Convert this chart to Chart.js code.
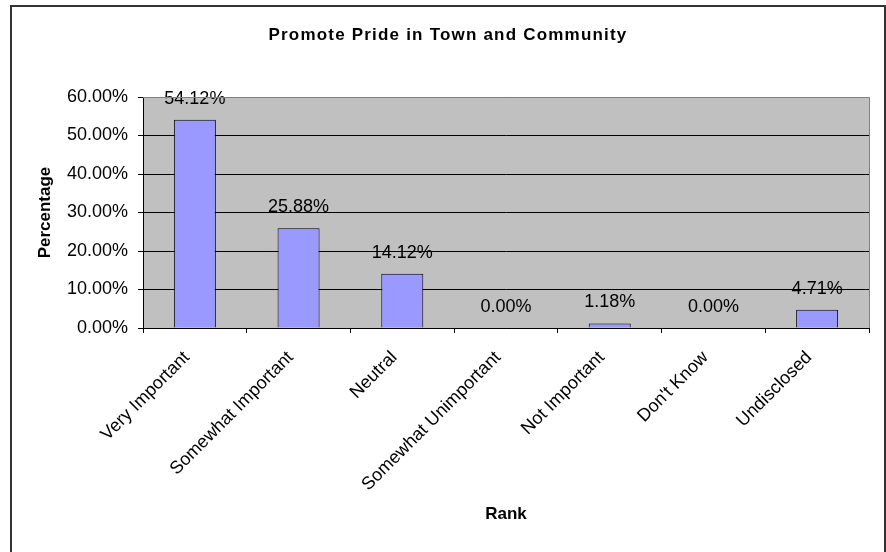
<!DOCTYPE html>
<html>
<head>
<meta charset="utf-8">
<script src="https://cdn.jsdelivr.net/npm/chart.js@4/dist/chart.umd.min.js"></script>
<style>
  html, body { margin: 0; padding: 0; background: #fff; }
  canvas { display: block; }
</style>
</head>
<body>
<canvas id="chart" width="886" height="552"></canvas>
<script>
// data
const categories = ['Very Important', 'Somewhat Important', 'Neutral', 'Somewhat Unimportant', 'Not Important', "Don't Know", 'Undisclosed'];
const percentages = [54.12, 25.88, 14.12, 0.00, 1.18, 0.00, 4.71];
const yMax = 60;
const yStep = 10;

const chartTitle = 'Promote Pride in Town and Community';
const xTitle = 'Rank';
const yTitle = 'Percentage';

const FONT = '"Liberation Sans", Arial, sans-serif';

// grey plot background, outer frame and the chart title
const framePlugin = {
    id: 'frame',
    beforeDraw(chart) {
        const ctx = chart.ctx;
        const a = chart.chartArea;
        ctx.save();
        ctx.fillStyle = '#fff';
        ctx.fillRect(0, 0, chart.width, chart.height);
        ctx.fillStyle = '#c0c0c0';
        ctx.fillRect(a.left, a.top, a.right - a.left, a.bottom - a.top);
        ctx.strokeStyle = '#333';
        ctx.lineWidth = 2;
        ctx.strokeRect(11, 6, 874, 600);
        ctx.fillStyle = '#000';
        ctx.font = 'bold 17px ' + FONT;
        ctx.letterSpacing = '1.2px';
        ctx.textAlign = 'center';
        ctx.textBaseline = 'middle';
        ctx.fillText(chartTitle, 448, 35);
        ctx.restore();
    },
    afterDraw(chart) {
        const ctx = chart.ctx;
        const a = chart.chartArea;
        ctx.save();
        ctx.strokeStyle = '#808080';
        ctx.lineWidth = 1;
        ctx.beginPath();
        ctx.moveTo(a.left, a.top + 0.5);
        ctx.lineTo(a.right + 0.5, a.top + 0.5);
        ctx.lineTo(a.right + 0.5, a.bottom);
        ctx.stroke();
        ctx.restore();
    }
};

// value labels above each bar
const valueLabels = {
    id: 'valueLabels',
    afterDatasetsDraw(chart) {
        const ctx = chart.ctx;
        const meta = chart.getDatasetMeta(0);
        ctx.save();
        ctx.fillStyle = '#000';
        ctx.font = '18px ' + FONT;
        ctx.textAlign = 'center';
        ctx.textBaseline = 'middle';
        meta.data.forEach(function(bar, i) {
            ctx.fillText(percentages[i].toFixed(2) + '%', bar.x, bar.y - 21);
        });
        ctx.restore();
    }
};

new Chart(document.getElementById('chart'), {
    type: 'bar',
    data: {
        labels: categories,
        datasets: [{
            data: percentages,
            backgroundColor: '#9999ff',
            borderColor: '#000',
            borderWidth: 1,
            categoryPercentage: 1,
            barPercentage: 0.405
        }]
    },
    options: {
        responsive: false,
        animation: false,
        layout: { padding: { top: 97, right: 17, left: 0, bottom: 0 } },
        plugins: {
            legend: { display: false },
            title: { display: false },
            tooltip: { enabled: false }
        },
        scales: {
            x: {
                grid: { display: true, drawOnChartArea: false, tickLength: 5, color: '#000', offset: true },
                border: { color: '#000' },
                ticks: {
                    autoSkip: false, minRotation: 45, maxRotation: 45,
                    color: '#000', font: { family: FONT, size: 18 },
                    padding: 14, labelOffset: -8
                },
                title: {
                    display: true, text: xTitle, color: '#000',
                    font: { family: FONT, size: 17, weight: 'bold' },
                    padding: { top: 0, bottom: 27 }
                },
                afterFit(scale) { scale.height = 224; }
            },
            y: {
                min: 0, max: yMax,
                grid: { color: '#000', tickLength: 5 },
                border: { color: '#000' },
                ticks: {
                    stepSize: yStep, color: '#000', padding: 10,
                    font: { family: FONT, size: 18 },
                    callback: function(v) { return v.toFixed(2) + '%'; }
                },
                title: {
                    display: true, text: yTitle, color: '#000',
                    font: { family: FONT, size: 17, weight: 'bold' },
                    padding: { top: 35, bottom: 0 }
                },
                afterFit(scale) { scale.width = 143; }
            }
        }
    },
    plugins: [framePlugin, valueLabels]
});
</script>
</body>
</html>
